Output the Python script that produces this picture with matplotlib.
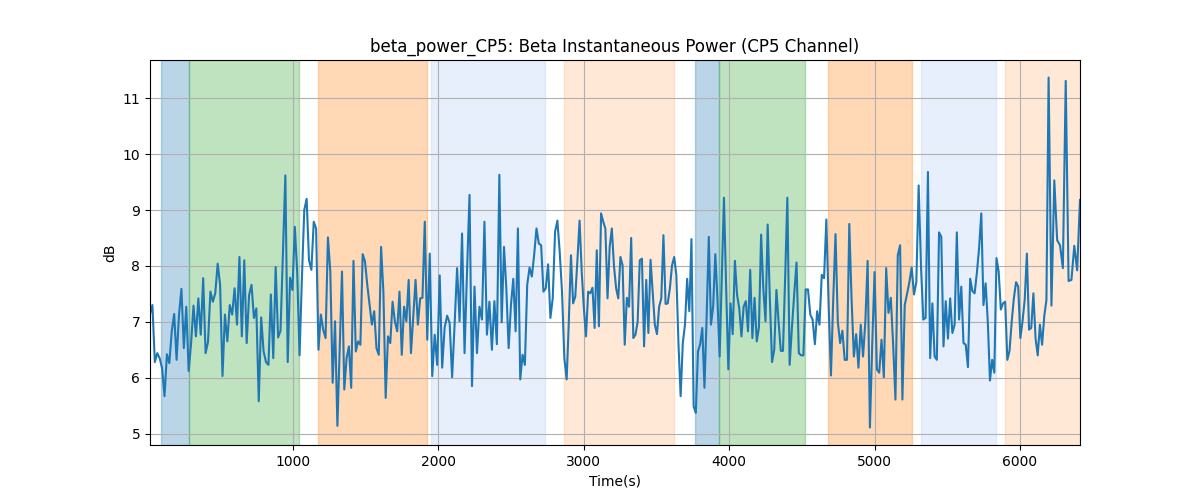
import numpy as np
import matplotlib
matplotlib.use('Agg')
import matplotlib.pyplot as plt

# Beta power values (dB), in time order
beta_db = [
    7.14, 7.30, 6.28, 6.44, 6.35, 6.17, 5.67, 6.42, 6.26, 6.83, 7.14, 6.32, 7.13, 7.59, 6.53, 7.27,
    6.12, 6.62, 7.29, 6.74, 7.42, 6.77, 7.78, 6.44, 6.64, 7.54, 7.36, 7.51, 8.04, 7.66, 6.03, 7.13,
    6.65, 7.30, 7.13, 7.60, 6.95, 8.16, 6.74, 8.10, 6.62, 7.48, 7.66, 7.07, 7.24, 5.58, 7.08, 6.47,
    6.28, 6.23, 7.49, 6.35, 7.98, 6.72, 6.84, 8.20, 9.62, 6.28, 7.79, 7.57, 8.70, 7.90, 6.40, 7.78,
    9.00, 9.20, 8.10, 7.93, 8.79, 8.67, 6.50, 7.13, 6.86, 6.71, 8.51, 7.90, 5.91, 7.01, 5.14, 6.50,
    7.90, 5.79, 6.35, 6.56, 5.82, 8.09, 6.47, 6.65, 6.59, 8.21, 8.08, 7.66, 7.30, 6.95, 7.19, 6.53, 6.41,
    8.34, 7.54, 5.64, 6.74, 6.62, 7.36, 7.01, 6.83, 7.54, 6.41, 7.27, 7.01, 7.75, 6.44, 7.10, 7.75,
    6.95, 7.42, 7.43, 8.79, 6.68, 8.22, 6.03, 6.77, 6.23, 7.83, 6.18, 6.90, 7.11, 6.98, 6.01, 6.95,
    7.96, 7.01, 8.58, 6.44, 7.90, 9.27, 5.85, 7.63, 6.44, 7.27, 7.04, 8.79, 6.77, 7.36, 6.50, 7.37,
    6.60, 9.63, 6.99, 8.34, 7.60, 6.53, 7.30, 7.77, 6.83, 8.67, 5.97, 6.41, 6.23, 7.66, 7.97, 7.81, 8.20,
    8.67, 8.40, 8.37, 7.54, 7.60, 8.03, 7.07, 7.42, 8.61, 8.81, 8.25, 7.54, 6.35, 5.97, 7.00, 8.19,
    7.33, 7.45, 8.10, 8.81, 7.90, 7.24, 6.74, 7.54, 7.51, 7.61, 6.89, 8.28, 6.92, 8.94, 8.79, 8.67,
    7.42, 8.34, 8.67, 8.00,
    7.60, 7.42, 8.16, 8.01, 6.59, 7.43, 7.27, 8.50, 6.71, 6.77, 7.00, 8.10, 8.13, 6.56, 7.75, 6.80,
    8.11, 7.54, 6.95, 6.78, 7.27, 7.42, 8.55, 7.32, 7.33, 7.60, 8.01, 8.16, 7.84, 6.60, 5.67, 6.62,
    6.95, 7.77, 7.19, 8.48,
    5.49, 5.37, 6.47, 6.60, 6.89, 5.82, 7.10, 8.52, 6.95, 7.27, 8.21, 7.40, 6.38, 7.80, 9.22, 7.60,
    6.15, 7.33, 6.78, 8.09, 7.48, 7.24, 6.74, 7.27, 7.37, 6.83, 7.93, 6.71, 7.43, 6.65, 6.90, 8.56,
    7.60, 7.01, 8.74, 7.40,
    6.28, 6.50, 7.57, 7.00, 6.48, 6.48, 7.80, 9.22, 6.23, 6.90, 7.50, 8.06, 6.44, 6.40, 6.40, 7.58,
    7.58, 7.13, 7.04, 6.60, 7.19, 6.95, 7.84, 7.78, 8.83, 7.30, 6.04, 7.40, 8.57, 7.00, 6.62, 6.84,
    6.32, 6.32, 8.75,
    7.40, 6.38, 6.78, 6.18, 6.95, 6.38, 7.00, 8.09, 5.11, 6.60, 7.89, 6.15, 6.09, 6.68, 6.01, 7.96,
    7.16, 7.43, 6.60, 5.61, 8.19, 8.37, 5.61, 7.30, 7.50, 7.71, 7.97, 7.49, 7.71, 9.44, 8.00, 7.04, 7.07,
    9.68, 6.35, 7.33, 6.38, 6.32, 8.60, 8.52, 6.56, 7.37, 6.70, 7.42, 6.80, 6.95, 8.60, 7.04, 7.63,
    6.62, 6.59, 6.19, 7.77, 7.55, 7.51, 7.87, 8.31, 8.94, 7.30, 7.69, 7.00, 5.95, 6.32, 6.09, 8.14,
    7.90, 7.22, 7.33,
    7.36, 6.32, 6.48, 7.00, 7.42, 7.71, 7.63, 6.71, 7.01, 7.40, 8.22, 6.86, 6.89, 7.51, 6.70, 6.40,
    6.95, 6.59, 7.10, 7.39, 11.37, 7.29, 9.53, 8.46, 8.37, 7.96, 11.31, 7.73, 7.75, 8.36, 7.92, 9.18,
]

# Time (s) of a few recognisable samples (sample index -> time)
ancla_idx = [0, 56, 78, 116, 146, 175, 228, 248, 277, 313, 338, 362, 393, len(beta_db) - 1]
ancla_t = [16, 947, 1305, 1906, 2419, 2882, 3666, 3964, 4400, 4968, 5367, 5734, 6197, 6413]
tiempo = np.interp(np.arange(len(beta_db)), ancla_idx, ancla_t)

# Task segments: (start, end, color, alpha)
seg_inicio = [90, 283, 1172, 1947, 2864, 3767, 3932, 4680, 5317, 5899]
seg_fin = [283, 1043, 1919, 2735, 3620, 3932, 4519, 5257, 5835, 6413]
seg_color = ['tab:blue', 'tab:green', 'tab:orange', 'cornflowerblue', 'tab:orange',
             'tab:blue', 'tab:green', 'tab:orange', 'cornflowerblue', 'tab:orange']
seg_alpha = [0.3, 0.3, 0.3, 0.15, 0.17, 0.3, 0.3, 0.3, 0.15, 0.17]

fig, ax = plt.subplots(figsize=(12, 5), dpi=100)

for ini, fin, col, a in zip(seg_inicio, seg_fin, seg_color, seg_alpha):
    ax.axvspan(ini, fin, color=col, alpha=a)

ax.plot(tiempo, beta_db, color='tab:blue', linewidth=1.5)

ax.set_xlim(tiempo[0], tiempo[-1])
ax.set_title('beta_power_CP5: Beta Instantaneous Power (CP5 Channel)')
ax.set_xlabel('Time(s)')
ax.set_ylabel('dB')
ax.grid(True)

plt.savefig('out.png', dpi=100)
plt.close()
